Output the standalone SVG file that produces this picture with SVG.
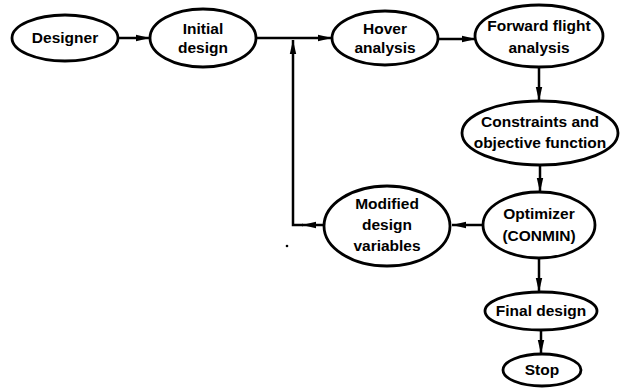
<svg xmlns="http://www.w3.org/2000/svg" width="624" height="389" viewBox="0 0 624 389">
<style>
.n ellipse{fill:#fff;stroke:#000;stroke-width:2.8}
.n text{font-family:"Liberation Sans",Arial,sans-serif;font-weight:bold;font-size:15.5px;text-anchor:middle;fill:#000}
.c path{fill:none;stroke:#000;stroke-width:2.5}
</style>
<defs>
<marker id="ah" markerUnits="userSpaceOnUse" markerWidth="15" markerHeight="8" refX="14" refY="4" orient="auto">
<path d="M0,0.8 L14,4 L0,7.2 z" fill="#000"/>
</marker>
</defs>
<rect width="624" height="389" fill="#fff"/>
<g class="c" id="connectors">
<path d="M118,38 L150,38" marker-end="url(#ah)"/>
<path d="M256,38 L332,38" marker-end="url(#ah)"/>
<path d="M438,39 L476,39" marker-end="url(#ah)"/>
<path d="M539,67 L539,101" marker-end="url(#ah)"/>
<path d="M540,165 L540,192" marker-end="url(#ah)"/>
<path d="M483,225 L452,225" marker-end="url(#ah)"/>
<path d="M324,225 L302,225" marker-end="url(#ah)"/>
<path d="M303,225 L293,225 L293,40" marker-end="url(#ah)"/>
<path d="M539,258 L539,292" marker-end="url(#ah)"/>
<path d="M541,330 L541,354" marker-end="url(#ah)"/>
</g>
<circle cx="287" cy="246" r="1.3" fill="#000"/>
<g class="n" id="designer"><ellipse cx="65" cy="38" rx="53" ry="23"/><text x="65" y="43">Designer</text></g>
<g class="n" id="initial"><ellipse cx="203" cy="38" rx="53" ry="29"/><text x="203" y="34">Initial</text><text x="203" y="53">design</text></g>
<g class="n" id="hover"><ellipse cx="385" cy="38" rx="53" ry="27"/><text x="385" y="34">Hover</text><text x="385" y="53">analysis</text></g>
<g class="n" id="forward"><ellipse cx="539" cy="36" rx="64" ry="31"/><text x="539" y="31">Forward flight</text><text x="539" y="53">analysis</text></g>
<g class="n" id="constraints"><ellipse cx="540" cy="133" rx="78" ry="32"/><text x="540" y="127">Constraints and</text><text x="540" y="148">objective function</text></g>
<g class="n" id="optimizer"><ellipse cx="539" cy="225" rx="56" ry="33"/><text x="539" y="219">Optimizer</text><text x="539" y="241">(CONMIN)</text></g>
<g class="n" id="modified"><ellipse cx="387" cy="226" rx="63" ry="40"/><text x="387" y="209">Modified</text><text x="387" y="230">design</text><text x="387" y="251">variables</text></g>
<g class="n" id="final"><ellipse cx="541" cy="311" rx="56" ry="19"/><text x="541" y="316">Final design</text></g>
<g class="n" id="stop"><ellipse cx="542" cy="370" rx="39" ry="16"/><text x="542" y="375">Stop</text></g>
</svg>
